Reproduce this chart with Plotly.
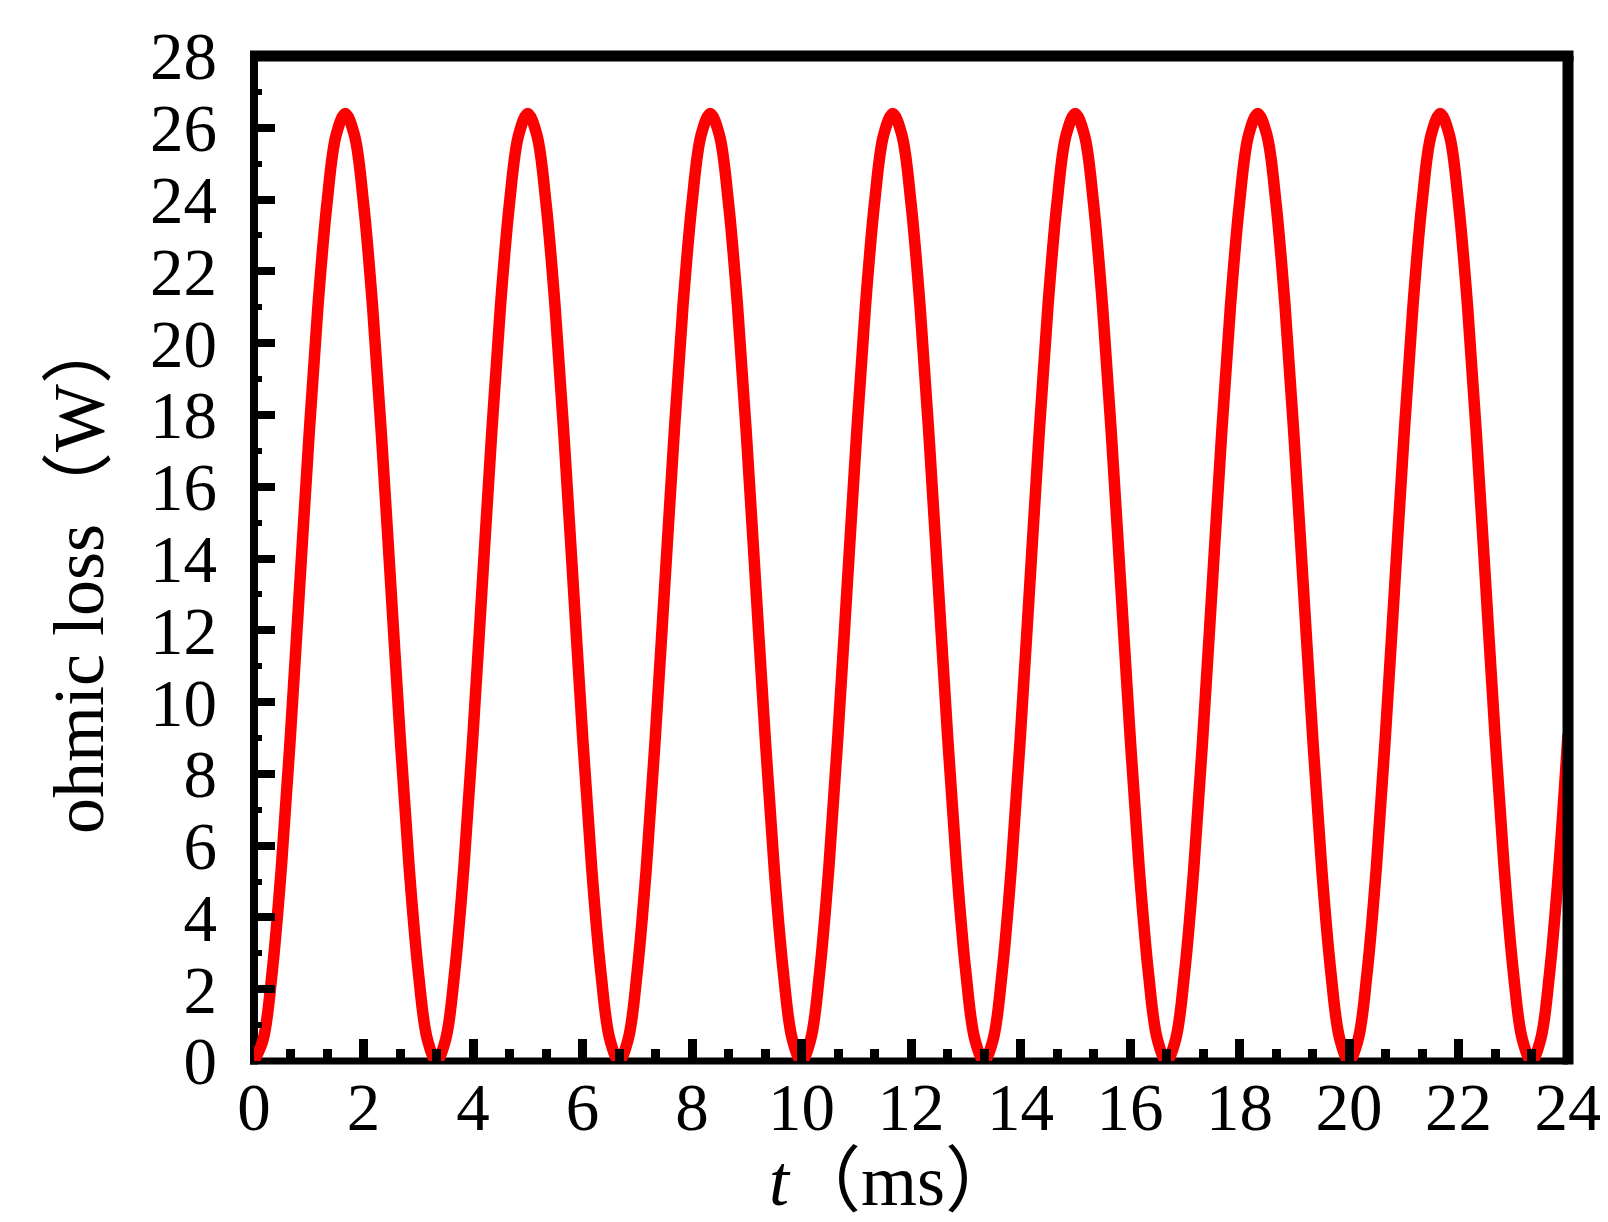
import plotly.graph_objects as go

# ohmic loss (W), one reading every 1/6 ms from t = 0 to t = 24 ms
SAMPLE_STEP_MS = 1 / 6
ohmic_loss_w = [
    0, 0.6, 2.5, 5.4, 9.1, 13.2, 17.3, 21.0, 23.9, 25.8, 26.4, 25.8, 23.9, 21.0, 17.3, 13.2, 9.1, 5.4, 2.5, 0.6,
    0, 0.6, 2.5, 5.4, 9.1, 13.2, 17.3, 21.0, 23.9, 25.8, 26.4, 25.8, 23.9, 21.0, 17.3, 13.2, 9.1, 5.4, 2.5, 0.6,
    0, 0.6, 2.5, 5.4, 9.1, 13.2, 17.3, 21.0, 23.9, 25.8, 26.4, 25.8, 23.9, 21.0, 17.3, 13.2, 9.1, 5.4, 2.5, 0.6,
    0, 0.6, 2.5, 5.4, 9.1, 13.2, 17.3, 21.0, 23.9, 25.8, 26.4, 25.8, 23.9, 21.0, 17.3, 13.2, 9.1, 5.4, 2.5, 0.6,
    0, 0.6, 2.5, 5.4, 9.1, 13.2, 17.3, 21.0, 23.9, 25.8, 26.4, 25.8, 23.9, 21.0, 17.3, 13.2, 9.1, 5.4, 2.5, 0.6,
    0, 0.6, 2.5, 5.4, 9.1, 13.2, 17.3, 21.0, 23.9, 25.8, 26.4, 25.8, 23.9, 21.0, 17.3, 13.2, 9.1, 5.4, 2.5, 0.6,
    0, 0.6, 2.5, 5.4, 9.1, 13.2, 17.3, 21.0, 23.9, 25.8, 26.4, 25.8, 23.9, 21.0, 17.3, 13.2, 9.1, 5.4, 2.5, 0.6,
    0, 0.6, 2.5, 5.4, 9.1,
]

x_ticks = [0, 2, 4, 6, 8, 10, 12, 14, 16, 18, 20, 22, 24]
y_ticks = [0, 2, 4, 6, 8, 10, 12, 14, 16, 18, 20, 22, 24, 26, 28]

FONT = "Liberation Serif, Times New Roman, Noto Sans CJK SC, serif"

fig = go.Figure(
    go.Scatter(
        x0=0,
        dx=SAMPLE_STEP_MS,
        y=ohmic_loss_w,
        mode="lines",
        line=dict(color="#ff0000", width=11.5, shape="spline"),
        showlegend=False,
    )
)

tick_font = dict(family=FONT, size=67, color="black")

fig.update_xaxes(
    range=[0, 24],
    tickvals=x_ticks,
    showline=False, showgrid=False, zeroline=False,
    ticks="inside", ticklen=22, tickwidth=8.5, tickcolor="black",
    minor=dict(tick0=0, dtick=2 / 3, ticks="inside", ticklen=12, tickwidth=8.5, tickcolor="black"),
    tickfont=tick_font,
    ticklabelstandoff=1,
)
fig.update_yaxes(
    range=[0, 28],
    tickvals=y_ticks,
    showline=False, showgrid=False, zeroline=False,
    ticks="inside", ticklen=21, tickwidth=8, tickcolor="black",
    minor=dict(tick0=0, dtick=1, ticks="inside", ticklen=8, tickwidth=5.5, tickcolor="black"),
    tickfont=tick_font,
    ticklabelstandoff=36,
)

# frame: thinner left/bottom lines under the curve, heavier top/right lines
W, H = 1314, 1005
fig.add_shape(type="line", xref="paper", yref="paper", x0=0, x1=0, y0=-3.5 / H, y1=1,
              line=dict(color="black", width=8), layer="below")
fig.add_shape(type="line", xref="paper", yref="paper", x0=-4 / W, x1=1, y0=0, y1=0,
              line=dict(color="black", width=7), layer="below")
fig.add_shape(type="line", xref="paper", yref="paper", x0=-4 / W, x1=1 + 5.5 / W, y0=1, y1=1,
              line=dict(color="black", width=11), layer="above")
fig.add_shape(type="line", xref="paper", yref="paper", x0=1, x1=1, y0=-3.5 / H, y1=1,
              line=dict(color="black", width=11), layer="above")

fig.add_annotation(
    text="ohmic loss（W）", textangle=-90,
    xref="paper", yref="paper", x=(71 - 246) / W, y=(1053 - 565) / H,
    xanchor="center", yanchor="middle", showarrow=False,
    font=dict(family=FONT, size=72, color="black"),
)
fig.add_annotation(
    text="<i>t</i>（ms）",
    xref="paper", yref="paper", x=(885 - 246) / W, y=(1053 - 1173) / H,
    xanchor="center", yanchor="middle", showarrow=False,
    font=dict(family=FONT, size=72, color="black"),
)

fig.update_layout(
    width=1608, height=1222,
    margin=dict(l=246, r=48, t=48, b=169, pad=0),
    paper_bgcolor="white", plot_bgcolor="white",
)

fig.write_html("out.html")
